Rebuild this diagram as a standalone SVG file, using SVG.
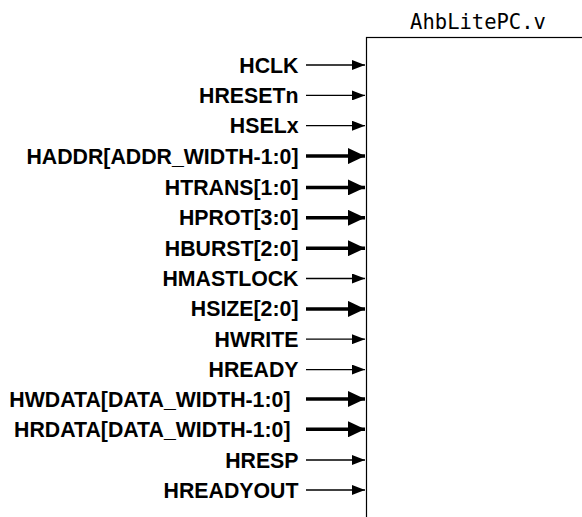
<svg xmlns="http://www.w3.org/2000/svg" width="582" height="517" viewBox="0 0 582 517">
<style>
.lbl{font-family:"Liberation Sans",Arial,sans-serif;font-weight:bold;font-size:21.3px;fill:#000;text-anchor:end}
.title{font-family:"DejaVu Sans Mono",monospace;font-size:20.5px;fill:#000;text-anchor:middle}
.thin{stroke:#000;stroke-width:1.3;fill:none}
.thick{stroke:#000;stroke-width:3.5;fill:none}
.box{stroke:#000;stroke-width:1.2;fill:#fff}
</style>
<defs>
<marker id="ah" markerUnits="userSpaceOnUse" markerWidth="13" markerHeight="10" refX="13" refY="5" orient="auto" viewBox="0 0 13 10"><path d="M0,0 L13,5 L0,10 Z" fill="#000"/></marker>
<marker id="ahb" markerUnits="userSpaceOnUse" markerWidth="17" markerHeight="16" refX="17" refY="8" orient="auto" viewBox="0 0 17 16"><path d="M0,0 L17,8 L0,16 Z" fill="#000"/></marker>
</defs>
<g id="module">
<rect class="box" x="366.5" y="37.5" width="230" height="500"/>
<text class="title" x="478" y="29">AhbLitePC.v</text>
</g>
<g id="connectors">
<line class="thin" x1="306" y1="65" x2="365" y2="65" marker-end="url(#ah)"/>
<line class="thin" x1="306" y1="95.4" x2="365" y2="95.4" marker-end="url(#ah)"/>
<line class="thin" x1="306" y1="125.7" x2="365" y2="125.7" marker-end="url(#ah)"/>
<line class="thick" x1="306" y1="156.1" x2="365" y2="156.1" marker-end="url(#ahb)"/>
<line class="thick" x1="306" y1="187.4" x2="365" y2="187.4" marker-end="url(#ahb)"/>
<line class="thick" x1="306" y1="217.8" x2="365" y2="217.8" marker-end="url(#ahb)"/>
<line class="thick" x1="306" y1="248.2" x2="365" y2="248.2" marker-end="url(#ahb)"/>
<line class="thin" x1="306" y1="278.5" x2="365" y2="278.5" marker-end="url(#ah)"/>
<line class="thick" x1="306" y1="308.9" x2="365" y2="308.9" marker-end="url(#ahb)"/>
<line class="thin" x1="306" y1="339.2" x2="365" y2="339.2" marker-end="url(#ah)"/>
<line class="thin" x1="306" y1="369.6" x2="365" y2="369.6" marker-end="url(#ah)"/>
<line class="thick" x1="306" y1="399" x2="365" y2="399" marker-end="url(#ahb)"/>
<line class="thick" x1="306" y1="429.3" x2="365" y2="429.3" marker-end="url(#ahb)"/>
<line class="thin" x1="306" y1="460" x2="365" y2="460" marker-end="url(#ah)"/>
<line class="thin" x1="306" y1="490" x2="365" y2="490" marker-end="url(#ah)"/>
</g>
<g id="labels">
<text class="lbl" x="298.5" y="72.5">HCLK</text>
<text class="lbl" x="298.5" y="102.9">HRESETn</text>
<text class="lbl" x="298.5" y="133.2">HSELx</text>
<text class="lbl" x="298.5" y="163.6">HADDR[ADDR_WIDTH-1:0]</text>
<text class="lbl" x="298.5" y="194.9">HTRANS[1:0]</text>
<text class="lbl" x="298.5" y="225.3">HPROT[3:0]</text>
<text class="lbl" x="298.5" y="255.7">HBURST[2:0]</text>
<text class="lbl" x="298.5" y="286">HMASTLOCK</text>
<text class="lbl" x="298.5" y="316.4">HSIZE[2:0]</text>
<text class="lbl" x="298.5" y="346.7">HWRITE</text>
<text class="lbl" x="298.5" y="377.1">HREADY</text>
<text class="lbl" x="290.5" y="406.5">HWDATA[DATA_WIDTH-1:0]</text>
<text class="lbl" x="290.5" y="436.8">HRDATA[DATA_WIDTH-1:0]</text>
<text class="lbl" x="298.5" y="467.5">HRESP</text>
<text class="lbl" x="298.5" y="497.5">HREADYOUT</text>
</g>
</svg>
